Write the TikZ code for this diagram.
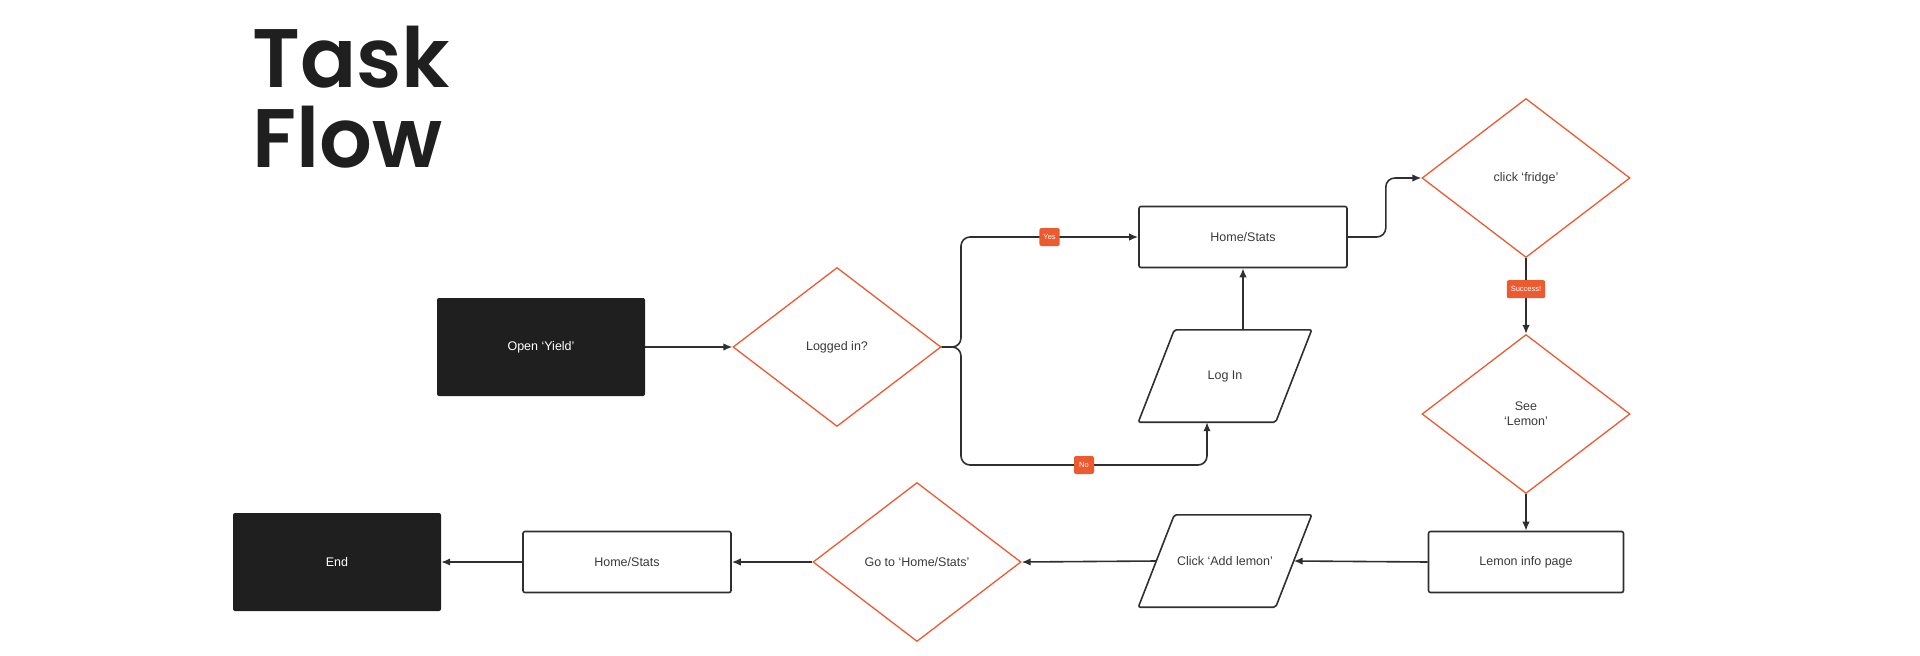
\documentclass[tikz,border=0pt]{standalone}
\usepackage{fontspec}
\setmainfont{Liberation Sans}
\newfontfamily\titlefont{Poppins SemiBold}
\usetikzlibrary{arrows.meta,positioning,shapes.geometric}
\definecolor{ink}{HTML}{1F1F1F}
\definecolor{wire}{HTML}{2F2F2F}
\definecolor{accent}{HTML}{EE5A2F}
\definecolor{textgray}{HTML}{3A3A3A}

\begin{document}
\begin{tikzpicture}[x=1pt, y=-1pt,
    every node/.style={font=\fontsize{12.5}{15}\selectfont, text=textgray},
    screen/.style={draw=wire, line width=1.6pt, rounded corners=2pt, minimum width=208pt, minimum height=61pt, fill=white},
    terminal/.style={fill=ink, rounded corners=2pt, minimum width=208pt, minimum height=98pt, text=white},
    decision/.style={diamond, draw=accent, line width=1.3pt, minimum width=208pt, minimum height=159pt, align=center},
    inout/.style={minimum width=137pt, minimum height=92pt},
    slanted/.style={draw=wire, line width=1.6pt, rounded corners=2pt},
    tag/.style={fill=accent, rounded corners=2pt, text=white, font=\fontsize{7.5}{8}\selectfont, inner xsep=4pt, inner ysep=0pt, minimum height=18pt, minimum width=20pt},
    flow/.style={draw=wire, line width=1.6pt, rounded corners=9pt, -{Latex[length=9pt, width=7.5pt]}}]
    \useasboundingbox (0,0) rectangle (1920,656);

    \node[anchor=base west, inner sep=0pt, text=ink, font=\titlefont\fontsize{83}{83}\selectfont] (task) at (252,87) {Task};
    \node[anchor=base west, inner sep=0pt, text=ink, font=\titlefont\fontsize{83}{83}\selectfont] (flowtitle) at (252,167) {Flow};

    \node[terminal] (open) at (541,347) {Open ‘Yield’};
    \node[decision] (logged) at (837,347) {Logged in?};
    \node[screen] (home) at (1243,237) {Home/Stats};
    \node[inout] (login) at (1225,376) {Log In};
    \node[decision] (fridge) at (1526,178) {click ‘fridge’};
    \node[decision] (see) at (1526,414) {See\\‘Lemon’};
    \node[screen, minimum width=195pt] (info) at (1526,562) {Lemon info page};
    \node[inout] (add) at (1225,561) {Click ‘Add lemon’};
    \node[decision] (goto) at (917,562) {Go to ‘Home/Stats’};
    \node[screen] (back) at (627,562) {Home/Stats};
    \node[terminal] (end) at (337,562) {End};

    \draw[slanted] ([xshift=-18pt]login.south west) -- ([xshift=18pt]login.north west)
        -- ([xshift=18pt]login.north east) -- ([xshift=-18pt]login.south east) -- cycle;
    \draw[slanted] ([xshift=-18pt]add.south west) -- ([xshift=18pt]add.north west)
        -- ([xshift=18pt]add.north east) -- ([xshift=-18pt]add.south east) -- cycle;

    \coordinate (fork) at (961,347);
    \draw[flow] (open) -- (logged);
    \draw[flow] (logged.east) -- (fork) |- (home.west) node[tag, pos=0.75] {Yes};
    \draw[flow] (logged.east) -- (fork) -- (fork |- 0,465) -| ([xshift=-18pt]login.south) node[tag, pos=0.25] {No};
    \draw[flow] (home.south |- login.north) -- (home.south);
    \draw[flow] (home.east) -- ++(38,0) |- (fridge.west);
    \draw[flow] (fridge.south) -- (see.north) node[tag, pos=0.41] {Success!};
    \draw[flow] (see.south) -- (info.north);
    \draw[flow] (info.west) -- (add.east);
    \draw[flow] (add.west) -- (goto.east);
    \draw[flow] (goto.west) -- (back.east);
    \draw[flow] (back.west) -- (end.east);
\end{tikzpicture}
\end{document}
